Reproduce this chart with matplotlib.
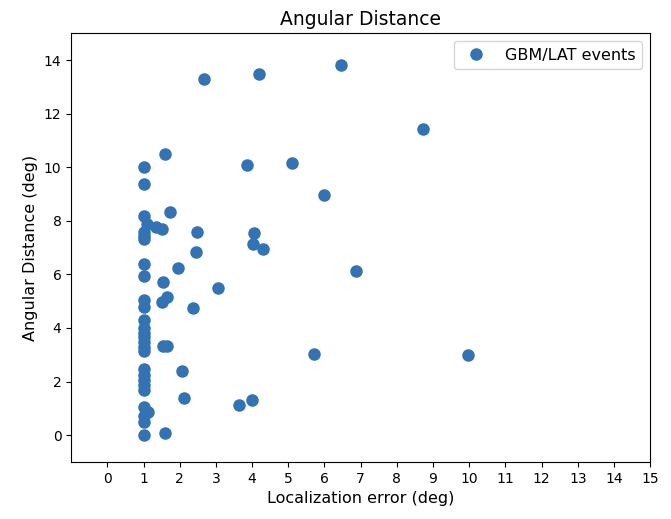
import numpy as np
import matplotlib
matplotlib.use("Agg")
import matplotlib.pyplot as plt

# localization error (deg) and angular distance (deg) for each event
loc_err = [
    1.0, 1.0, 1.6,
    2.68, 4.18, 6.45, 8.72,
    3.85, 5.09, 6.0,
    1.0, 1.74, 1.1, 1.35, 1.5, 1.0, 1.0, 1.0, 2.49,
    2.46, 4.04, 4.02, 4.3,
    1.0, 1.94, 1.0, 1.55, 3.07, 6.88,
    1.0, 1.0, 1.65, 1.52, 2.36,
    1.0,
    1.0, 1.0, 1.0, 1.0, 1.0, 1.0, 1.55, 1.65,
    5.72, 9.96,
    1.0, 1.0, 1.0, 1.0, 1.0, 2.07,
    2.13, 3.65, 4.01,
    1.0, 1.12, 1.0, 1.0, 1.0, 1.58,
]
ang_dist = [
    10.0, 9.38, 10.48,
    13.29, 13.48, 13.83, 11.43,
    10.09, 10.17, 8.97,
    8.19, 8.32, 7.88, 7.76, 7.7, 7.58, 7.45, 7.32, 7.58,
    6.83, 7.55, 7.15, 6.96,
    6.4, 6.22, 5.94, 5.72, 5.5, 6.14,
    5.03, 4.8, 5.15, 4.97, 4.76,
    4.28,
    3.98, 3.82, 3.65, 3.48, 3.3, 3.15, 3.33, 3.33,
    3.02, 2.98,
    2.47, 2.26, 2.05, 1.86, 1.68, 2.38,
    1.38, 1.12, 1.32,
    1.04, 0.87, 0.7, 0.5, 0.0, 0.07,
]

fig = plt.figure(figsize=(6.71, 5.19), dpi=100)
ax = fig.add_axes([0.106, 0.110, 0.863, 0.826])

ax.plot(loc_err, ang_dist, 'o', color='#3373b3', markersize=8,
        label='GBM/LAT events')

ax.set_xlim(-1, 15)
ax.set_ylim(-1, 15)
ax.set_xticks(np.arange(0, 16, 1))
ax.set_yticks(np.arange(0, 15, 2))
ax.tick_params(labelsize=10)
ax.set_title('Angular Distance', fontsize=13.5)
ax.set_xlabel('Localization error (deg)', fontsize=11.5)
ax.set_ylabel('Angular Distance (deg)', fontsize=11.5)
ax.legend(loc='upper right', numpoints=1, fontsize=11.5)

fig.savefig('out.png', dpi=100)
